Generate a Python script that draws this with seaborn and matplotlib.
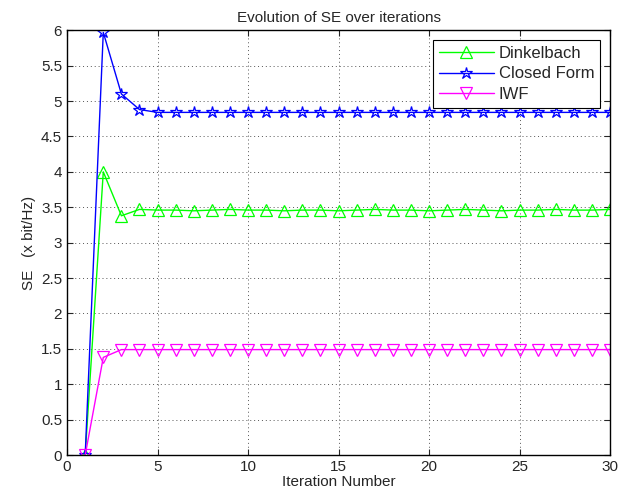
import numpy as np
import pandas as pd
import matplotlib
matplotlib.use("Agg")
import matplotlib.pyplot as plt
import seaborn as sns

# SE per iteration
iterations = list(range(1, 31))
dinkelbach = [0.0, 4.0, 3.38, 3.47, 3.46, 3.46, 3.45, 3.46, 3.47, 3.46,
              3.46, 3.45, 3.46, 3.46, 3.45, 3.46, 3.47, 3.46, 3.46, 3.45,
              3.46, 3.47, 3.46, 3.45, 3.46, 3.46, 3.47, 3.46, 3.46, 3.47]
closed_form = [0.0, 5.97, 5.1, 4.88, 4.84, 4.84, 4.84, 4.84, 4.84, 4.84,
               4.84, 4.84, 4.84, 4.84, 4.84, 4.84, 4.84, 4.84, 4.84, 4.84,
               4.84, 4.84, 4.84, 4.84, 4.84, 4.84, 4.84, 4.84, 4.84, 4.84]
iwf = [0.0, 1.38, 1.49, 1.49, 1.49, 1.49, 1.49, 1.49, 1.49, 1.49,
       1.49, 1.49, 1.49, 1.49, 1.49, 1.49, 1.49, 1.49, 1.49, 1.49,
       1.49, 1.49, 1.49, 1.49, 1.49, 1.49, 1.49, 1.49, 1.49, 1.49]

series = {"Dinkelbach": (dinkelbach, "#00ff00", "^", 9),
          "Closed Form": (closed_form, "#0000ff", "*", 9),
          "IWF": (iwf, "#ff00ff", "v", 9)}

sns.set_style("ticks")
plt.rcParams['font.family'] = ['Liberation Sans', 'DejaVu Sans']

fig = plt.figure(figsize=(6.27, 5.04), dpi=100)
ax = fig.add_axes([0.107, 0.097, 0.866, 0.843])

for name, (vals, col, mk, ms) in series.items():
    df = pd.DataFrame({"it": iterations, "se": vals})
    sns.lineplot(data=df, x="it", y="se", ax=ax, color=col, marker=mk,
                 markersize=ms, markerfacecolor="none",
                 markeredgecolor=col, markeredgewidth=0.9, linewidth=1.0,
                 label=name)

ax.set_xlim(0, 30)
ax.set_ylim(0, 6)
ax.set_xticks(np.arange(0, 31, 5))
ax.set_yticks(np.arange(0, 6.01, 0.5))
ax.set_yticklabels([f"{v:g}" for v in np.arange(0, 6.01, 0.5)])
ax.grid(True, linestyle=(0, (1, 3)), color="#555555", linewidth=0.7)
ax.tick_params(direction="in", labelsize=11, top=True, right=True, length=4)
for s in ax.spines.values():
    s.set_linewidth(1.0)
    s.set_color("black")
ax.set_xlabel("Iteration Number", fontsize=11, labelpad=1)
ax.set_ylabel("SE   (x bit/Hz)", fontsize=11)
ax.set_title("Evolution of SE over iterations", fontsize=11, pad=6)
leg = ax.legend(loc="upper right", fontsize=12, fancybox=False, framealpha=1,
                edgecolor="black", borderpad=0.35, handlelength=3.3,
                labelspacing=0.32, handletextpad=0.3, borderaxespad=0.6)
leg.get_frame().set_linewidth(0.8)

fig.savefig("out.png", dpi=100)
